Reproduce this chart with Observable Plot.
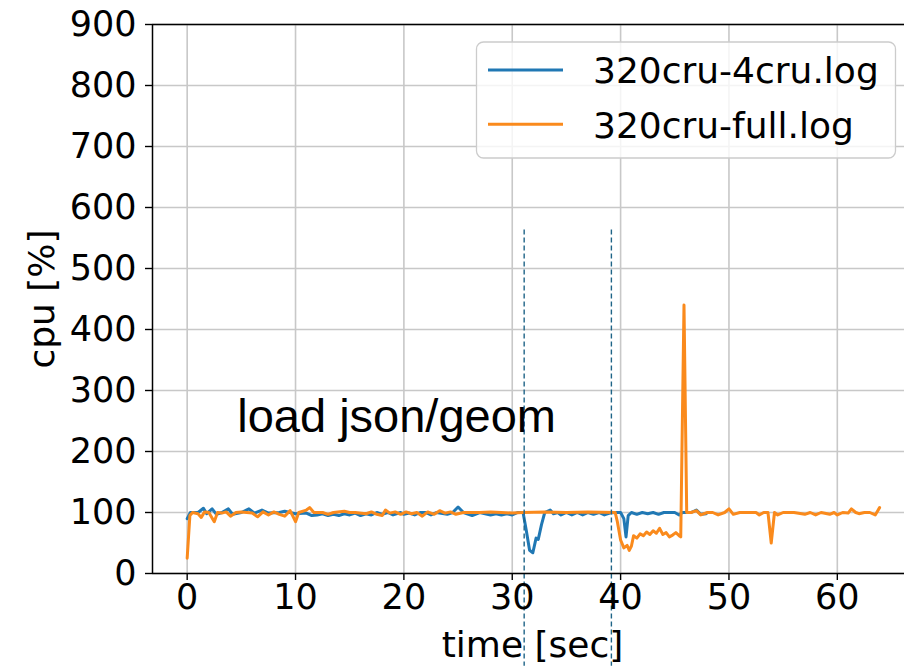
<!DOCTYPE html>
<html><head><meta charset="utf-8">
<script src="https://cdn.jsdelivr.net/npm/d3@7"></script>
<script src="https://cdn.jsdelivr.net/npm/@observablehq/plot@0.6"></script>
<style>
body{margin:0;background:#fff;}
#wrap{position:relative;width:904px;height:666px;overflow:hidden;background:#fff;}
#wrap svg{position:absolute;left:0;top:0;}
</style></head><body><div id="wrap"></div>
<script>
const seriesNames = ["320cru-4cru.log", "320cru-full.log"];
const seriesColors = ["#2078b4", "#fa8a1c"];

const blueT = [
  0, 0.3, 1.0, 1.5, 1.8, 2.3, 2.7, 3.2, 3.8, 4.2,
  5.0, 5.7, 6.2, 6.9, 7.5, 8.5, 9.0, 10.0, 11.0, 11.5,
  12.0, 12.5, 13.0, 13.5, 14.0, 14.5, 15.0, 15.5, 16.0, 16.5,
  17.0, 17.5, 18.0, 18.5, 19.0, 19.7, 20.0, 20.5, 21.0, 21.5,
  22.0, 22.5, 23.0, 24.0, 24.5, 25.0, 25.5, 26.3, 27.0, 28.0,
  28.5, 29.0, 29.5, 30.0, 30.5, 31.0, 31.3, 31.6, 31.9, 32.2,
  32.4, 32.7, 33.0, 33.5, 33.8, 34.2, 34.5, 35.0, 35.5, 36.0,
  36.5, 37.0, 37.5, 38.0, 38.5, 39.0, 39.5, 40.0, 40.3, 40.5,
  40.7, 41.0, 41.5, 42.0, 42.5, 43.0, 43.5, 44.0, 45.0, 45.4,
  45.7, 46.0, 46.5, 47.0, 47.4, 47.9
];
const blueV = [
  90, 100, 100, 107, 98, 106, 97, 100, 106, 97,
  100, 106, 99, 104, 99, 100, 102, 98, 99, 95,
  96, 98, 95, 97, 95, 98, 96, 99, 95, 98,
  96, 100, 97, 100, 96, 100, 97, 99, 96, 100,
  100, 96, 100, 97, 100, 109, 100, 95, 100, 96,
  98, 96, 98, 96, 100, 100, 70, 38, 34, 58,
  56, 80, 100, 104, 98, 100, 96, 100, 96, 100,
  96, 100, 97, 100, 96, 99, 100, 100, 90, 60,
  95, 100, 97, 100, 98, 100, 97, 100, 100, 96,
  100, 100, 100, 104, 97, 98
];

const orangeT = [
  0, 0.25, 0.5, 1.0, 1.3, 1.6, 2.0, 2.5, 2.8, 3.2,
  3.6, 4.0, 4.5, 5.0, 5.5, 6.0, 6.5, 7.0, 7.5, 8.0,
  8.5, 9.0, 9.5, 10.0, 10.3, 11.0, 11.3, 11.7, 12.5, 13.0,
  13.5, 14.5, 15.0, 15.5, 16.5, 17.0, 17.5, 18.0, 18.3, 18.7,
  19.2, 19.7, 20.2, 20.7, 21.2, 21.7, 22.2, 22.8, 23.3, 23.8,
  24.3, 24.8, 25.5, 27.0, 28.0, 29.0, 30.0, 31.0, 33.0, 35.0,
  37.0, 39.5, 39.7, 40.0, 40.3, 40.6, 40.8, 41.0, 41.2, 41.5,
  41.8, 42.1, 42.4, 42.7, 43.0, 43.3, 43.6, 43.9, 44.2, 44.5,
  44.8, 45.1, 45.4, 45.55, 45.85, 46.1, 46.5, 47.0, 47.4, 48.0,
  48.5, 49.0, 49.6, 50.0, 50.4, 51.0, 52.0, 52.5, 52.8, 53.2,
  53.6, 53.9, 54.2, 54.5, 55.0, 56.0, 57.0, 57.5, 58.0, 58.5,
  59.3, 59.7, 60.0, 60.5, 61.0, 61.3, 61.7, 62.0, 62.5, 63.0,
  63.5, 63.9
];
const orangeV = [
  25, 95, 100, 98, 92, 101, 100, 85, 100, 99,
  101, 94, 100, 101, 100, 99, 93, 101, 96, 101,
  97, 94, 103, 85, 100, 104, 108, 100, 100, 97,
  100, 102, 100, 100, 98, 101, 97, 95, 104, 99,
  101, 97, 101, 98, 100, 94, 101, 97, 103, 99,
  101, 97, 100, 100, 101, 100, 99, 100, 101, 100,
  101, 100, 85, 55, 42, 46, 38, 45, 62, 58,
  65, 62, 68, 64, 70, 66, 74, 64, 67, 60,
  63, 67, 62, 60, 440, 100, 100, 103, 96, 100,
  100, 96, 100, 106, 97, 100, 100, 100, 96, 100,
  100, 50, 100, 96, 100, 100, 97, 100, 96, 100,
  97, 100, 96, 100, 99, 106, 100, 98, 100, 100,
  96, 108
];

const xDomain = [-3.2, 66.2];
const yDomain = [0, 900];
const xTicks = [0, 10, 20, 30, 40, 50, 60];
const yTicks = [0, 100, 200, 300, 400, 500, 600, 700, 800, 900];
const markerTimes = [31.1, 39.15];
const markerTop = 563, markerBottom = -152;
const annotationText = "load json/geom";
const annotationX = 4.62, annotationY = 257;
const xLabel = "time [sec]";
const yLabel = "cpu [%]";

function table(ts, vs) {
  const n = Math.min(ts.length, vs.length);
  return d3.range(n).map(i => ({t: ts[i], v: vs[i]}));
}
const blue = table(blueT, blueV);
const orange = table(orangeT, orangeV);

const chart = Plot.plot({
  width: 904, height: 666,
  marginLeft: 152, marginRight: 0, marginTop: 24, marginBottom: 93,
  style: {fontFamily: "'DejaVu Sans', sans-serif", fontSize: "35px", color: "#000", background: "transparent", overflow: "visible"},
  x: {domain: xDomain},
  y: {domain: yDomain},
  marks: [
    Plot.gridX(xTicks, {stroke: "#c8c8c8", strokeOpacity: 1, strokeWidth: 1.6}),
    Plot.gridY(yTicks, {stroke: "#c8c8c8", strokeOpacity: 1, strokeWidth: 1.6}),
    Plot.line(blue, {x: "t", y: "v", stroke: seriesColors[0], strokeWidth: 3, strokeLinejoin: "round"}),
    Plot.line(orange, {x: "t", y: "v", stroke: seriesColors[1], strokeWidth: 3, strokeLinejoin: "round"}),
    Plot.ruleX(markerTimes, {y1: markerTop, y2: markerBottom, stroke: "#1f6487", strokeWidth: 1.4, strokeDasharray: "5,3"}),
    Plot.axisX({ticks: xTicks, tickSize: 7, tickPadding: 4, strokeWidth: 1.4, label: null}),
    Plot.axisY({ticks: yTicks, tickSize: 7, tickPadding: 9, strokeWidth: 1.4, label: null}),
    Plot.ruleX([xDomain[0]], {stroke: "#000", strokeWidth: 1.5}),
    Plot.ruleY(yDomain, {stroke: "#000", strokeWidth: 1.5}),
    Plot.text([{x: annotationX, y: annotationY, s: annotationText}], {x: "x", y: "y", text: "s", textAnchor: "start", lineAnchor: "middle", fontSize: 47, fontFamily: "'Liberation Sans', Arial, sans-serif"}),
    Plot.text([xLabel], {text: d => d, frameAnchor: "bottom", textAnchor: "middle", lineAnchor: "middle", dx: 4, dy: 72, fontSize: 36}),
    Plot.text([yLabel], {text: d => d, frameAnchor: "left", textAnchor: "middle", lineAnchor: "middle", rotate: -90, dx: -110, fontSize: 36})
  ]
});
document.getElementById("wrap").appendChild(chart);

// legend overlay
const leg = d3.select("#wrap").append("svg")
  .attr("width", 904).attr("height", 666)
  .style("font-family", "'DejaVu Sans', sans-serif");
leg.append("rect")
  .attr("x", 476.5).attr("y", 42).attr("width", 419).attr("height", 116).attr("rx", 7)
  .attr("fill", "#fff").attr("fill-opacity", 0.8)
  .attr("stroke", "#cccccc").attr("stroke-width", 1.3);
seriesNames.forEach((name, i) => {
  const cy = 70 + i * 54.3;
  leg.append("line").attr("x1", 488).attr("x2", 563).attr("y1", cy).attr("y2", cy)
    .attr("stroke", seriesColors[i]).attr("stroke-width", 3);
  leg.append("text").attr("x", 593).attr("y", cy + 13.3)
    .attr("font-size", 36).attr("fill", "#000").text(name);
});
</script>
</body></html>
